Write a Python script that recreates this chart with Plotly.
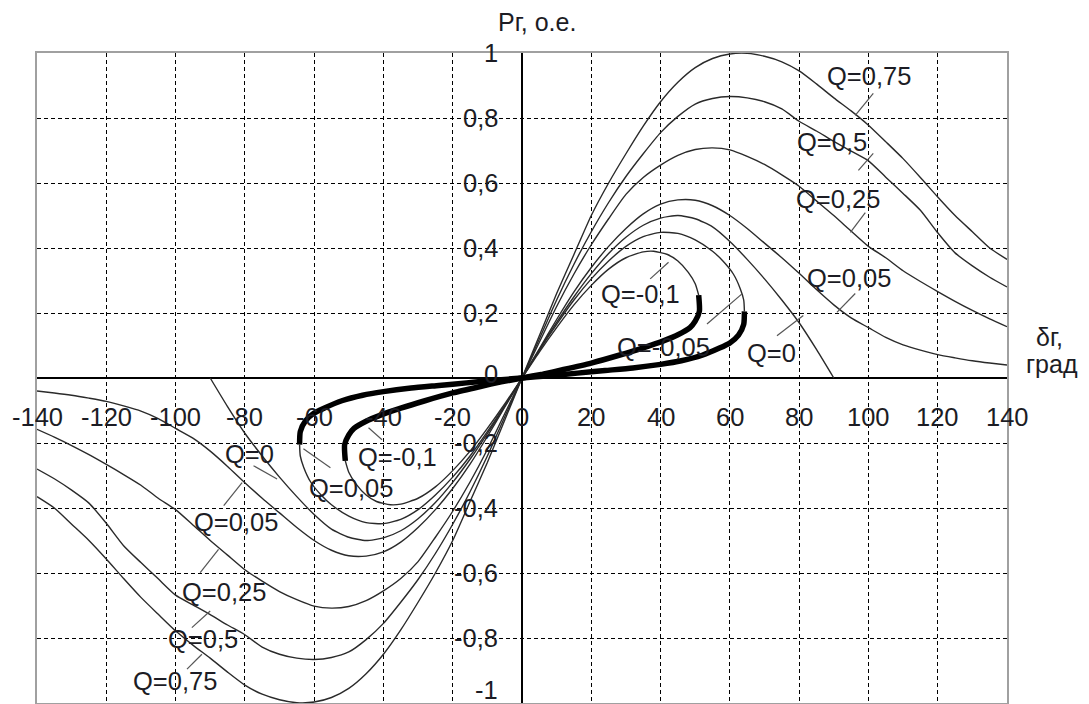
import plotly.graph_objects as go

# ---------------- data ----------------
delta_pos = [0, 5, 10, 15, 20, 25, 30, 35, 40, 45, 50, 55, 60, 65, 70, 75, 80, 85, 90,
             95, 100, 105, 110, 115, 120, 125, 130, 135, 140]
delta_neg = [0, -5, -10, -15, -20, -25, -30, -35, -40, -45, -50, -55, -60, -65, -70, -75, -80, -85, -90,
             -95, -100, -105, -110, -115, -120, -125, -130, -135, -140]

q075_pos = [0, 0.13, 0.26, 0.38, 0.50, 0.60, 0.69, 0.775, 0.85, 0.91, 0.955, 0.983, 0.997, 0.999, 0.99,
            0.973, 0.945, 0.905, 0.862, 0.822, 0.778, 0.727, 0.675, 0.617, 0.557, 0.50, 0.45, 0.40, 0.365]
q075_neg = [0, -0.13, -0.26, -0.38, -0.50, -0.60, -0.69, -0.775, -0.85, -0.91, -0.955, -0.983, -0.997, -0.999, -0.99,
            -0.973, -0.945, -0.905, -0.862, -0.822, -0.778, -0.727, -0.675, -0.617, -0.557, -0.50, -0.45, -0.40, -0.365]

q05_pos = [0, 0.12, 0.24, 0.35, 0.45, 0.54, 0.62, 0.69, 0.755, 0.805, 0.843, 0.86, 0.866, 0.862, 0.85,
           0.828, 0.79, 0.76, 0.728, 0.698, 0.668, 0.618, 0.568, 0.516, 0.447, 0.385, 0.345, 0.31, 0.28]
q05_neg = [0, -0.12, -0.24, -0.35, -0.45, -0.54, -0.62, -0.69, -0.755, -0.805, -0.843, -0.86, -0.866, -0.862, -0.85,
           -0.828, -0.79, -0.76, -0.728, -0.698, -0.668, -0.618, -0.568, -0.516, -0.447, -0.385, -0.345, -0.31, -0.28]

q025_pos = [0, 0.11, 0.22, 0.32, 0.41, 0.49, 0.565, 0.617, 0.655, 0.685, 0.703, 0.708, 0.702, 0.682, 0.657,
            0.625, 0.59, 0.545, 0.50, 0.452, 0.405, 0.37, 0.33, 0.297, 0.266, 0.236, 0.208, 0.182, 0.158]
q025_neg = [0, -0.11, -0.22, -0.32, -0.41, -0.49, -0.565, -0.617, -0.655, -0.685, -0.703, -0.708, -0.702, -0.682, -0.657,
            -0.625, -0.59, -0.545, -0.50, -0.452, -0.405, -0.37, -0.33, -0.297, -0.266, -0.236, -0.208, -0.182, -0.158]

q005_pos = [0, 0.09, 0.18, 0.265, 0.34, 0.405, 0.46, 0.505, 0.535, 0.548, 0.547, 0.53, 0.50, 0.46, 0.415,
            0.37, 0.322, 0.272, 0.225, 0.185, 0.155, 0.125, 0.102, 0.086, 0.072, 0.062, 0.053, 0.046, 0.04]
q005_neg = [0, -0.09, -0.18, -0.265, -0.34, -0.405, -0.46, -0.505, -0.535, -0.548, -0.547, -0.53, -0.50, -0.46, -0.415,
            -0.37, -0.322, -0.272, -0.225, -0.185, -0.155, -0.125, -0.102, -0.086, -0.072, -0.062, -0.053, -0.046, -0.04]

q0_delta_pos = [0, 5, 10, 15, 20, 25, 30, 35, 40, 45, 50, 55, 60, 65, 70, 75, 80, 85, 90]
q0_delta_neg = [0, -5, -10, -15, -20, -25, -30, -35, -40, -45, -50, -55, -60, -65, -70, -75, -80, -85, -90]
q0_pos = [0, 0.087, 0.171, 0.25, 0.321, 0.383, 0.433, 0.47, 0.492, 0.5, 0.49, 0.465, 0.42, 0.365, 0.305,
          0.24, 0.17, 0.088, 0.0]
q0_neg = [0, -0.087, -0.171, -0.25, -0.321, -0.383, -0.433, -0.47, -0.492, -0.5, -0.49, -0.465, -0.42, -0.365, -0.305,
          -0.24, -0.17, -0.088, 0.0]

# Q = -0.05 : thin (stable) part and thick (return) part
qm005_thin_dpos = [0, 5, 10, 15, 20, 25, 30, 35, 40, 45, 50, 55, 58, 61, 63, 64, 64.2]
qm005_thin_pos = [0, 0.085, 0.165, 0.24, 0.305, 0.36, 0.405, 0.435, 0.448, 0.445, 0.425, 0.39, 0.36, 0.32, 0.275, 0.24, 0.205]
qm005_thin_dneg = [0, -5, -10, -15, -20, -25, -30, -35, -40, -45, -50, -55, -58, -61, -63, -64, -64.2]
qm005_thin_neg = [0, -0.085, -0.165, -0.24, -0.305, -0.36, -0.405, -0.435, -0.448, -0.445, -0.425, -0.39, -0.36, -0.32, -0.275, -0.24, -0.205]
qm005_thick_dpos = [64.2, 64, 62.5, 60, 57, 52, 46, 40, 32, 24, 16, 8, 0]
qm005_thick_pos = [0.205, 0.165, 0.132, 0.108, 0.092, 0.07, 0.053, 0.042, 0.031, 0.023, 0.015, 0.007, 0]
qm005_thick_dneg = [0, -8, -16, -24, -32, -40, -46, -52, -57, -60, -62.5, -64, -64.2]
qm005_thick_neg = [0, -0.007, -0.015, -0.023, -0.031, -0.042, -0.053, -0.07, -0.092, -0.108, -0.132, -0.165, -0.205]

# Q = -0.1
qm01_thin_dpos = [0, 5, 10, 15, 20, 25, 30, 35, 38, 42, 45, 48, 50, 51]
qm01_thin_pos = [0, 0.08, 0.155, 0.225, 0.285, 0.335, 0.37, 0.388, 0.39, 0.38, 0.36, 0.325, 0.29, 0.255]
qm01_thin_dneg = [0, -5, -10, -15, -20, -25, -30, -35, -38, -42, -45, -48, -50, -51]
qm01_thin_neg = [0, -0.08, -0.155, -0.225, -0.285, -0.335, -0.37, -0.388, -0.39, -0.38, -0.36, -0.325, -0.29, -0.255]
qm01_thick_dpos = [51, 51.2, 50, 48.5, 45, 41, 35, 28, 20, 12, 6, 0]
qm01_thick_pos = [0.255, 0.205, 0.175, 0.155, 0.133, 0.115, 0.093, 0.07, 0.046, 0.026, 0.012, 0]
qm01_thick_dneg = [0, -6, -12, -20, -28, -35, -41, -45, -48.5, -50, -51.2, -51]
qm01_thick_neg = [0, -0.012, -0.026, -0.046, -0.07, -0.093, -0.115, -0.133, -0.155, -0.175, -0.205, -0.255]

x_ticks = [-140, -120, -100, -80, -60, -40, -20, 0, 20, 40, 60, 80, 100, 120, 140]
x_tick_text = ["-140", "-120", "-100", "-80", "-60", "-40", "-20", "0", "20", "40", "60", "80", "100", "120", "140"]
y_ticks = [1, 0.8, 0.6, 0.4, 0.2, 0, -0.2, -0.4, -0.6, -0.8, -1]
y_tick_text = ["1", "0,8", "0,6", "0,4", "0,2", "0", "-0,2", "-0,4", "-0,6", "-0,8", "-1"]

# curve labels: text, label position (x, y), leader segment (x0, y0, x1, y1)
curve_labels = [
    ("Q=0,75", 100.3, 0.929, 101.4, 0.876, 96.2, 0.808),
    ("Q=0,5", 89.6, 0.725, 101.4, 0.691, 97.1, 0.639),
    ("Q=0,25", 91.3, 0.552, 99.1, 0.509, 94.8, 0.448),
    ("Q=0,05", 94.5, 0.309, 96.2, 0.260, 90.9, 0.202),
    ("Q=0", 71.9, 0.078, 73.6, 0.130, 81.2, 0.192),
    ("Q=-0,05", 40.8, 0.096, 53.4, 0.166, 63.5, 0.259),
    ("Q=-0,1", 34.2, 0.257, 37.0, 0.305, 42.3, 0.356),
    ("Q=0", -78.7, -0.233, -77.5, -0.270, -70.7, -0.311),
    ("Q=0,05", -82.5, -0.442, -86.1, -0.393, -80.8, -0.322),
    ("Q=0,25", -85.9, -0.658, -92.9, -0.599, -87.6, -0.527),
    ("Q=0,5", -92.0, -0.803, -95.3, -0.768, -90.0, -0.717),
    ("Q=0,75", -100.3, -0.932, -96.7, -0.896, -92.4, -0.850),
    ("Q=0,05", -49.3, -0.338, -63.1, -0.218, -55.3, -0.276),
    ("Q=-0,1", -36.0, -0.242, -44.3, -0.153, -40.4, -0.190),
]

# ---------------- figure ----------------
THIN = dict(color="#2a2a2a", width=1.4)
THICK = dict(color="black", width=5.5)
FONT = "Liberation Sans, Arial, sans-serif"
TXT = "#1c1c24"
FS = 25.5

fig = go.Figure()

def full(dneg, yneg, dpos, ypos):
    return list(reversed(dneg)) + dpos[1:], list(reversed(yneg)) + ypos[1:]

for dn, yn, dp, yp in [
    (delta_neg, q075_neg, delta_pos, q075_pos),
    (delta_neg, q05_neg, delta_pos, q05_pos),
    (delta_neg, q025_neg, delta_pos, q025_pos),
    (delta_neg, q005_neg, delta_pos, q005_pos),
    (q0_delta_neg, q0_neg, q0_delta_pos, q0_pos),
    (qm005_thin_dneg, qm005_thin_neg, qm005_thin_dpos, qm005_thin_pos),
    (qm01_thin_dneg, qm01_thin_neg, qm01_thin_dpos, qm01_thin_pos),
]:
    xs, ys = full(dn, yn, dp, yp)
    fig.add_trace(go.Scatter(x=xs, y=ys, mode="lines", line=dict(THIN, shape="spline", smoothing=0.6),
                             showlegend=False, hoverinfo="skip"))

for dp, yp, dn, yn in [
    (qm005_thick_dpos, qm005_thick_pos, qm005_thick_dneg, qm005_thick_neg),
    (qm01_thick_dpos, qm01_thick_pos, qm01_thick_dneg, qm01_thick_neg),
]:
    fig.add_trace(go.Scatter(x=dp + dn[1:], y=yp + yn[1:], mode="lines",
                             line=dict(THICK, shape="spline", smoothing=0.6),
                             showlegend=False, hoverinfo="skip"))

annotations = []
for v, t in zip(x_ticks, x_tick_text):
    annotations.append(dict(x=v, y=0, xref="x", yref="y", text=t, showarrow=False,
                            yanchor="middle", xanchor="center", yshift=-39,
                            font=dict(family=FONT, size=FS, color=TXT)))
for v, t in zip(y_ticks, y_tick_text):
    ys = 0
    if t == "0":
        ys = 4
    elif t == "-1":
        ys = 13
    annotations.append(dict(x=0, y=v, xref="x", yref="y", text=t, showarrow=False,
                            yanchor="middle", xanchor="right", xshift=-22, yshift=ys,
                            font=dict(family=FONT, size=FS, color=TXT)))

shapes = []
for text, lx, ly, x0, y0, x1, y1 in curve_labels:
    annotations.append(dict(x=lx, y=ly, xref="x", yref="y", text=text, showarrow=False,
                            xanchor="center", yanchor="middle",
                            font=dict(family=FONT, size=FS, color=TXT)))
    shapes.append(dict(type="line", xref="x", yref="y", x0=x0, y0=y0, x1=x1, y1=y1,
                       line=dict(color="#555555", width=1.2)))

annotations.append(dict(x=0.5155, y=1.047, xref="paper", yref="paper", text="Рг, о.е.",
                        showarrow=False, xanchor="center", yanchor="middle",
                        font=dict(family=FONT, size=25, color=TXT)))
annotations.append(dict(x=1.0443, y=0.563, xref="paper", yref="paper", text="δг,",
                        showarrow=False, xanchor="center", yanchor="middle",
                        font=dict(family=FONT, size=25, color=TXT)))
annotations.append(dict(x=1.0464, y=0.522, xref="paper", yref="paper", text="град",
                        showarrow=False, xanchor="center", yanchor="middle",
                        font=dict(family=FONT, size=25, color=TXT)))

fig.update_layout(
    width=1089, height=704,
    margin=dict(l=29, r=90, t=45, b=9),
    paper_bgcolor="white", plot_bgcolor="white",
    showlegend=False,
    annotations=annotations, shapes=shapes,
    xaxis=dict(range=[-140, 140], tickvals=x_ticks, showticklabels=False, ticks="",
               showgrid=True, gridcolor="black", gridwidth=1.2, griddash="4px,3px",
               zeroline=True, zerolinecolor="black", zerolinewidth=2,
               showline=True, mirror=True, linecolor="#a0a0a0", linewidth=2),
    yaxis=dict(range=[-1, 1], tickvals=y_ticks, showticklabels=False, ticks="",
               showgrid=True, gridcolor="black", gridwidth=1.2, griddash="4px,3px",
               zeroline=True, zerolinecolor="black", zerolinewidth=2,
               showline=True, mirror=True, linecolor="#a0a0a0", linewidth=2),
)

fig.write_html("out.html")
